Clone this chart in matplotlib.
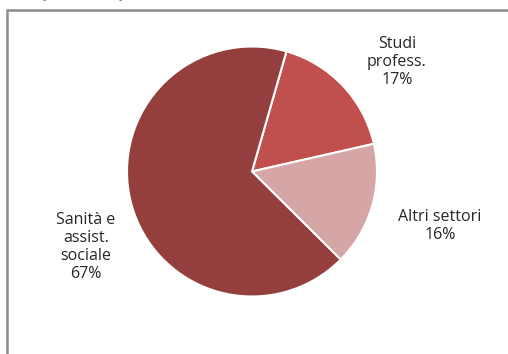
import matplotlib
matplotlib.use("Agg")
import matplotlib.pyplot as plt
from matplotlib.patches import Rectangle

categories = ["Studi\nprofess.", "Altri settori", "Sanità e\nassist.\nsociale"]
values = [17, 16, 67]
colors = ["#C0504D", "#D6A5A6", "#943F3D"]
title = "Composizione per settore economico, %"

W, H = 508, 354
fig = plt.figure(figsize=(W / 100, H / 100), dpi=100)
fig.patch.set_facecolor("white")

# title, cut off at the top edge as in the reference
fig.text(8 / W, 1 + 2 / H, title, ha="left", va="baseline", fontsize=11,
         fontweight="bold", color="#7F7F7F", family="Open Sans")

# chart frame (extends beyond right/bottom edges)
fig.patches.append(Rectangle((7 / W, -0.1), 1.2, (H - 10) / H + 0.1,
                             transform=fig.transFigure, fill=False,
                             edgecolor="#8C8C8C", linewidth=1.8))

cx, cy, r = 252, 171.5, 125
ax = fig.add_axes([(cx - r) / W, (H - cy - r) / H, 2 * r / W, 2 * r / H])
wedges, _ = ax.pie(values, colors=colors, startangle=74, counterclock=False,
                   radius=1, wedgeprops=dict(edgecolor="white", linewidth=1.5))
ax.set_xlim(-1, 1)
ax.set_ylim(-1, 1)
ax.set_aspect("auto")
ax.axis("off")

label_pos = [(397, 62), (440, 226), (86, 247)]
for cat, v, (x, y) in zip(categories, values, label_pos):
    fig.text(x / W, 1 - y / H, f"{cat}\n{v}%", ha="center", va="center",
             fontsize=11.5, color="#262626", family="Open Sans", linespacing=1.15)

fig.savefig("out.png", dpi=100)
